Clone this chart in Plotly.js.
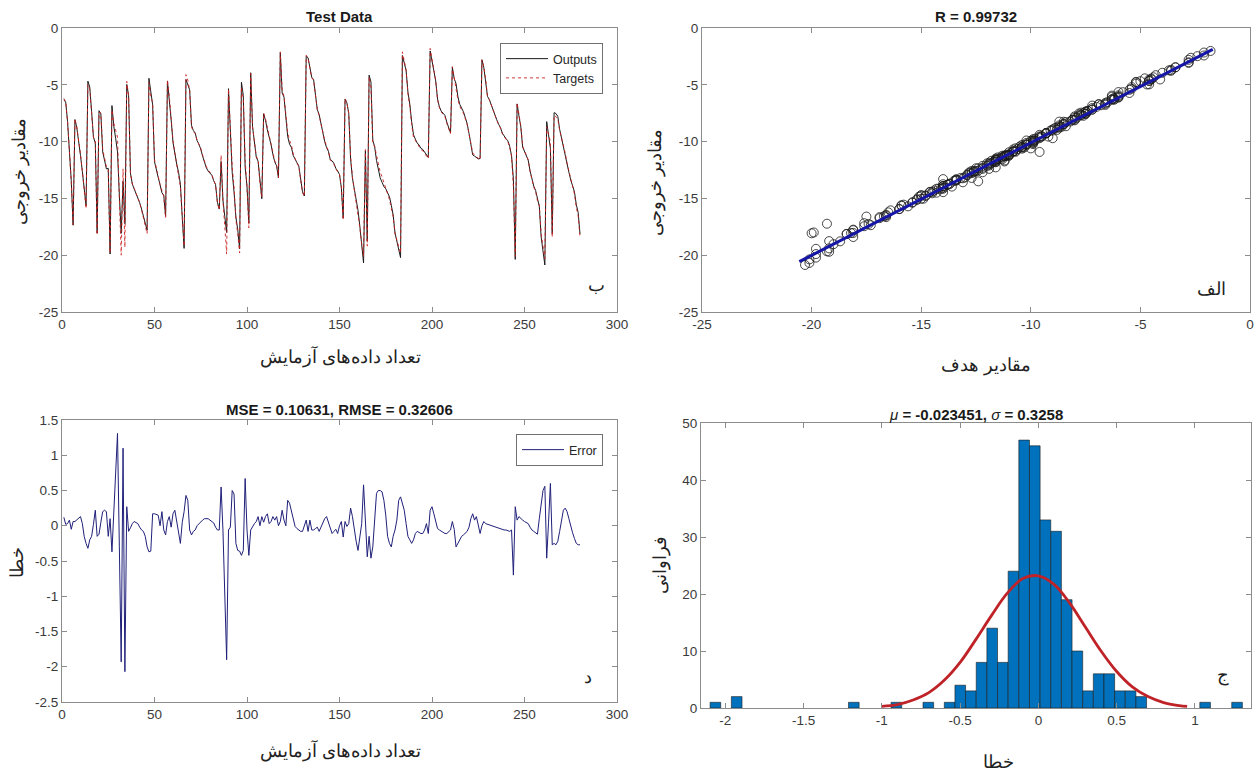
<!DOCTYPE html>
<html>
<head>
<meta charset="utf-8">
<script src="https://cdn.plot.ly/plotly-3.0.1.min.js"></script>
<style>
html,body{margin:0;padding:0;background:#ffffff;}
#chart{width:1258px;height:772px;}
</style>
</head>
<body>
<div id="chart"></div>
<script>
// ---------------- DATA ----------------
// Test targets, samples 1..280
const targets = [
 -6.2, -6.5, -8.2, -10.8, -13.5, -17.3, -8.0, -8.7, -9.8, -11.1,
 -12.6, -14.3, -15.9, -5.0, -5.4, -7.5, -9.6, -9.9, -18.2, -7.4,
 -7.5, -10.7, -11.6, -12.2, -12.5, -19.8, -7.2, -8.4, -9.0, -9.6,
 -15.0, -20.0, -12.4, -19.3, -4.7, -6.0, -12.8, -13.7, -14.1, -14.5,
 -15.0, -15.4, -16.0, -16.6, -17.4, -18.1, -4.8, -6.0, -6.6, -11.6,
 -12.4, -13.0, -13.8, -14.3, -14.8, -16.7, -4.6, -6.0, -8.1, -9.9,
 -11.0, -11.9, -12.8, -14.0, -16.6, -19.2, -4.1, -4.6, -5.5, -8.7,
 -9.1, -9.3, -9.9, -10.2, -10.6, -11.2, -11.8, -12.2, -12.5, -12.7,
 -12.9, -13.4, -13.8, -15.4, -16.0, -11.2, -15.2, -17.5, -19.9, -5.4,
 -9.3, -12.2, -14.0, -16.9, -18.1, -19.8, -5.2, -6.3, -11.6, -14.0,
 -17.6, -4.0, -8.7, -9.9, -11.3, -11.6, -13.7, -14.9, -7.5, -8.0,
 -8.8, -9.5, -10.2, -11.0, -11.7, -12.0, -13.2, -2.1, -5.5, -6.0,
 -7.9, -9.2, -9.9, -10.3, -11.1, -11.6, -11.9, -12.2, -13.4, -14.5,
 -14.8, -2.4, -2.7, -3.6, -4.4, -4.6, -6.2, -7.2, -7.7, -8.5,
 -9.0, -9.9, -10.4, -10.8, -11.6, -11.8, -12.0, -12.4, -12.7, -12.9,
 -14.0, -16.9, -6.2, -6.6, -7.5, -11.3, -13.1, -14.2, -15.0, -16.4,
 -17.6, -19.0, -20.1, -10.7, -19.2, -4.3, -5.2, -10.2, -10.4, -11.2,
 -11.9, -12.7, -13.1, -13.6, -14.0, -14.6, -15.1, -15.9, -16.6, -18.1,
 -18.7, -19.3, -19.8, -2.1, -2.8, -3.7, -5.8, -6.9, -8.5, -9.6,
 -9.9, -10.2, -10.4, -10.7, -10.8, -11.0, -11.2, -11.5, -1.8, -2.8,
 -3.6, -4.6, -6.3, -7.0, -7.4, -7.6, -7.8, -8.4, -8.9, -9.3,
 -3.4, -4.5, -5.2, -6.3, -6.9, -7.2, -7.5, -8.0, -8.5, -9.3,
 -10.2, -11.0, -11.2, -11.3, -11.5, -11.6, -2.8, -3.4, -4.5, -6.0,
 -6.3, -6.8, -7.2, -7.7, -8.1, -8.5, -8.8, -9.3, -9.6, -9.8,
 -10.0, -10.5, -11.3, -14.0, -20.1, -6.6, -7.6, -8.6, -10.4, -10.8,
 -11.1, -11.6, -12.6, -13.4, -14.0, -14.4, -15.2, -15.6, -18.1, -19.2,
 -20.3, -8.7, -9.5, -10.0, -18.4, -7.7, -7.8, -8.0, -9.0, -9.6,
 -10.4, -11.0, -11.9, -12.6, -13.4, -14.0, -14.6, -15.8, -16.5, -18.4
];
// Error (target - output), samples 1..280
const errors = [
 0.12, 0.02, 0.03, 0.08, -0.05, 0.06, 0.06, 0.08, 0.10, 0.13,
 0.03, -0.15, -0.25, -0.32, -0.20, -0.15, 0.02, 0.22, -0.15, -0.12,
 0.05, 0.20, 0.22, 0.20, -0.15, 0.10, -0.37, 0.25, 0.70, 1.31,
 -0.30, -1.93, 1.10, -2.07, 0.27, -0.08, -0.03, 0.03, 0.06, 0.05,
 0.03, -0.02, -0.06, -0.08, -0.15, -0.30, -0.37, -0.36, 0.17, 0.17,
 0.16, 0.15, 0.00, 0.20, -0.06, -0.13, 0.06, 0.13, -0.02, 0.17,
 0.22, 0.08, -0.10, -0.25, 0.05, 0.20, 0.43, 0.36, -0.06, -0.13,
 -0.08, -0.06, 0.00, 0.03, 0.06, 0.08, 0.10, 0.10, 0.10, 0.08,
 0.06, 0.04, -0.02, -0.06, -0.06, 0.55, -0.06, -0.90, -1.90, -0.06,
 -0.02, 0.50, 0.45, -0.25, -0.35, -0.36, -0.42, -0.35, 0.67, -0.06,
 -0.42, -0.06, -0.01, 0.03, 0.06, 0.13, 0.00, 0.13, 0.05, 0.13,
 0.17, 0.03, 0.06, 0.13, 0.08, 0.13, 0.00, 0.06, 0.22, 0.08,
 0.00, 0.36, 0.32, 0.22, 0.13, -0.01, -0.04, -0.06, -0.08, -0.08,
 -0.01, 0.08, -0.08, 0.08, -0.06, -0.06, -0.04, -0.02, -0.08, -0.02,
 0.03, 0.10, 0.13, 0.05, -0.02, -0.11, -0.08, -0.05, -0.11, 0.00,
 0.06, -0.16, 0.06, -0.01, 0.03, 0.25, 0.13, -0.06, -0.22, -0.35,
 -0.15, 0.03, 0.58, 0.13, -0.44, -0.15, -0.46, -0.30, 0.05, 0.46,
 0.50, 0.50, 0.48, 0.36, 0.15, -0.15, -0.25, -0.30, -0.15, -0.06,
 0.08, 0.36, 0.41, 0.32, 0.22, 0.03, -0.15, -0.20, -0.25, -0.20,
 -0.11, -0.08, -0.10, -0.11, -0.11, -0.06, 0.03, -0.11, 0.22, 0.27,
 0.17, 0.06, -0.04, -0.06, -0.08, -0.10, -0.11, -0.11, -0.09, -0.06,
 0.06, -0.05, -0.30, -0.25, -0.18, -0.15, -0.13, -0.11, -0.08, -0.02,
 0.10, 0.17, 0.08, 0.13, 0.02, -0.11, 0.00, 0.06, 0.03, 0.02,
 0.01, 0.00, -0.01, -0.02, -0.02, -0.03, -0.04, -0.05, -0.06, -0.06,
 -0.07, -0.08, -0.06, -0.70, 0.27, 0.08, 0.13, 0.10, 0.08, 0.06,
 0.05, 0.03, -0.02, -0.06, -0.08, -0.10, -0.12, 0.10, 0.30, 0.50,
 0.56, -0.46, 0.05, 0.60, -0.27, -0.25, -0.27, -0.22, -0.08, 0.10,
 0.22, 0.25, 0.20, 0.10, -0.02, -0.10, -0.18, -0.25, -0.27, -0.27
];
// Network outputs = targets - errors
const outputs = targets.map((t, i) => Math.round((t - errors[i]) * 1000) / 1000);

// Regression fit line (end points)
const fitX = [-20.56, -1.70];
const fitY = [-20.57, -1.88];

// Error histogram: bin centres and counts
const histCenters = [-2.063, -1.927, -1.179, -0.907, -0.703, -0.567, -0.499, -0.431, -0.363, -0.295,
                     -0.227, -0.159, -0.091, -0.023, 0.045, 0.113, 0.181, 0.249, 0.317, 0.385,
                     0.453, 0.521, 0.589, 0.657, 1.065, 1.269];
const histCounts  = [1, 2, 1, 1, 1, 1, 4, 3, 8, 14,
                     8, 24, 47, 46, 33, 31, 19, 10, 3, 6,
                     6, 3, 3, 2, 1, 1];
// Normal fit curve
const normX = [-1.0, -0.9, -0.8, -0.7, -0.6, -0.5, -0.4, -0.3, -0.2, -0.1, 0.0, 0.1, 0.2, 0.3, 0.4, 0.5, 0.6, 0.7, 0.8, 0.9, 0.95];
const normY = [0.3, 0.6, 1.4, 2.7, 4.9, 8.0, 12.0, 16.2, 20.1, 22.7, 23.2, 21.7, 18.4, 14.2, 10.0, 6.4, 3.7, 2.0, 0.95, 0.42, 0.27];

// Tick values and labels
const sampleTicks = [0, 50, 100, 150, 200, 250, 300];
const sampleTickText = ['0', '50', '100', '150', '200', '250', '300'];
const valueTicks = [-25, -20, -15, -10, -5, 0];
const valueTickText = ['-25', '-20', '-15', '-10', '-5', '0'];
const errTicks = [-2.5, -2, -1.5, -1, -0.5, 0, 0.5, 1, 1.5];
const errTickText = ['-2.5', '-2', '-1.5', '-1', '-0.5', '0', '0.5', '1', '1.5'];
const histTicks = [-2, -1.5, -1, -0.5, 0, 0.5, 1];
const histTickText = ['-2', '-1.5', '-1', '-0.5', '0', '0.5', '1'];
const freqTicks = [0, 10, 20, 30, 40, 50];
const freqTickText = ['0', '10', '20', '30', '40', '50'];

// Texts
const titleTest = '<b>Test Data</b>';
const titleR = '<b>R = 0.99732</b>';
const titleMSE = '<b>MSE = 0.10631, RMSE = 0.32606</b>';
const titleHist = '<i>μ</i><b> = -0.023451, </b><i>σ</i><b> = 0.3258</b>';
const labelSamples = 'تعداد داده‌های آزمایش';
const labelOutputs = 'مقادیر خروجی';
const labelTargets = 'مقادیر هدف';
const labelError = 'خطا';
const labelFreq = 'فراوانی';

// ---------------- LAYOUT ----------------
const W = 1258, H = 772;
const px = v => v / W;
const py = v => 1 - v / H;

const tickFont = {family: 'Liberation Sans, Arial, sans-serif', size: 13.5, color: '#3a3a3a'};
function axis(extra) {
  return Object.assign({
    showline: true, linecolor: '#8c8c8c', linewidth: 1, mirror: 'ticks',
    ticks: 'inside', ticklen: 5, tickcolor: '#8c8c8c', tickwidth: 1,
    showgrid: false, zeroline: false, tickfont: tickFont, tickmode: 'array',
    fixedrange: true
  }, extra);
}

const traces = [
  {type: 'scatter', mode: 'lines', name: 'Outputs', x0: 1, dx: 1, y: outputs,
   line: {color: '#1a1a1a', width: 1}, xaxis: 'x', yaxis: 'y', legend: 'legend'},
  {type: 'scatter', mode: 'lines', name: 'Targets', x0: 1, dx: 1, y: targets,
   line: {color: '#cc1f1f', width: 0.9, dash: 'dot'}, xaxis: 'x', yaxis: 'y', legend: 'legend'},
  {type: 'scatter', mode: 'markers', name: 'Data', x: targets, y: outputs,
   marker: {symbol: 'circle-open', size: 9, color: '#1a1a1a', line: {width: 0.8, color: '#1a1a1a'}},
   xaxis: 'x2', yaxis: 'y2', showlegend: false},
  {type: 'scatter', mode: 'lines', name: 'Fit', x: fitX, y: fitY,
   line: {color: '#1515a8', width: 3}, xaxis: 'x2', yaxis: 'y2', showlegend: false},
  {type: 'scatter', mode: 'lines', name: 'Error', x0: 1, dx: 1, y: errors,
   line: {color: '#20207a', width: 1}, xaxis: 'x3', yaxis: 'y3', legend: 'legend2'},
  {type: 'bar', name: 'hist', x: histCenters, y: histCounts, width: 0.068,
   marker: {color: '#0072BD', line: {color: '#1c1c1c', width: 0.6}},
   xaxis: 'x4', yaxis: 'y4', showlegend: false},
  {type: 'scatter', mode: 'lines', name: 'Normal', x: normX, y: normY,
   line: {color: '#bf2328', width: 2.8, shape: 'spline'}, xaxis: 'x4', yaxis: 'y4', showlegend: false}
];

const legendBase = {
  xanchor: 'right', yanchor: 'top', bgcolor: '#ffffff', bordercolor: '#707070', borderwidth: 1,
  font: {family: 'Liberation Sans, Arial, sans-serif', size: 12.5, color: '#262626'},
  tracegroupgap: 0, traceorder: 'normal', itemwidth: 42
};

const persFont = {family: "'Times New Roman', 'Liberation Serif', 'DejaVu Serif', serif", size: 18, color: '#222'};
const letterFont = {family: "'Times New Roman', 'Liberation Serif', 'DejaVu Serif', serif", size: 18, color: '#222'};
const titleFont = {family: 'Liberation Sans, Arial, sans-serif', size: 15, color: '#1a1a1a'};

function ann(text, x, y, font, extra) {
  return Object.assign({text: text, x: px(x), y: py(y), xref: 'paper', yref: 'paper',
    showarrow: false, xanchor: 'center', yanchor: 'middle', font: font}, extra || {});
}

const layout = {
  width: W, height: H,
  paper_bgcolor: '#ffffff', plot_bgcolor: '#ffffff',
  margin: {l: 0, r: 0, t: 0, b: 0},
  showlegend: true,
  xaxis:  axis({domain: [px(62), px(617)], anchor: 'y', range: [0, 300], tickvals: sampleTicks, ticktext: sampleTickText}),
  yaxis:  axis({domain: [py(312), py(28)], anchor: 'x', range: [-25, 0], tickvals: valueTicks, ticktext: valueTickText}),
  xaxis2: axis({domain: [px(702), px(1250)], anchor: 'y2', range: [-25, 0], tickvals: valueTicks, ticktext: valueTickText}),
  yaxis2: axis({domain: [py(312), py(28)], anchor: 'x2', range: [-25, 0], tickvals: valueTicks, ticktext: valueTickText}),
  xaxis3: axis({domain: [px(62), px(617)], anchor: 'y3', range: [0, 300], tickvals: sampleTicks, ticktext: sampleTickText}),
  yaxis3: axis({domain: [py(702), py(420)], anchor: 'x3', range: [-2.5, 1.5], tickvals: errTicks, ticktext: errTickText}),
  xaxis4: axis({domain: [px(701), px(1251)], anchor: 'y4', range: [-2.155, 1.358], tickvals: histTicks, ticktext: histTickText}),
  yaxis4: axis({domain: [py(708), py(423)], anchor: 'x4', range: [0, 50], tickvals: freqTicks, ticktext: freqTickText}),
  legend: Object.assign({}, legendBase, {x: px(603), y: py(43)}),
  legend2: Object.assign({}, legendBase, {x: px(603), y: py(434)}),
  annotations: [
    ann(titleTest, 339.5, 17, titleFont),
    ann(titleR, 976, 17, titleFont),
    ann(titleMSE, 339.5, 409, titleFont),
    ann(titleHist, 976, 414, titleFont),
    ann(labelSamples, 340, 357, persFont),
    ann(labelOutputs, 19, 171, persFont, {textangle: -90}),
    ann(labelTargets, 986, 365, persFont),
    ann(labelOutputs, 656, 182, persFont, {textangle: -90}),
    ann(labelSamples, 340, 751, persFont),
    ann(labelError, 17, 563, persFont, {textangle: -90}),
    ann(labelError, 998, 762, persFont),
    ann(labelFreq, 660, 565, persFont, {textangle: -90}),
    ann('ب', 596, 285, letterFont),
    ann('الف', 1211, 289, letterFont),
    ann('د', 588, 677, letterFont),
    ann('ج', 1223, 675, letterFont)
  ]
};

Plotly.newPlot('chart', traces, layout, {staticPlot: true, displayModeBar: false});
</script>
</body>
</html>
